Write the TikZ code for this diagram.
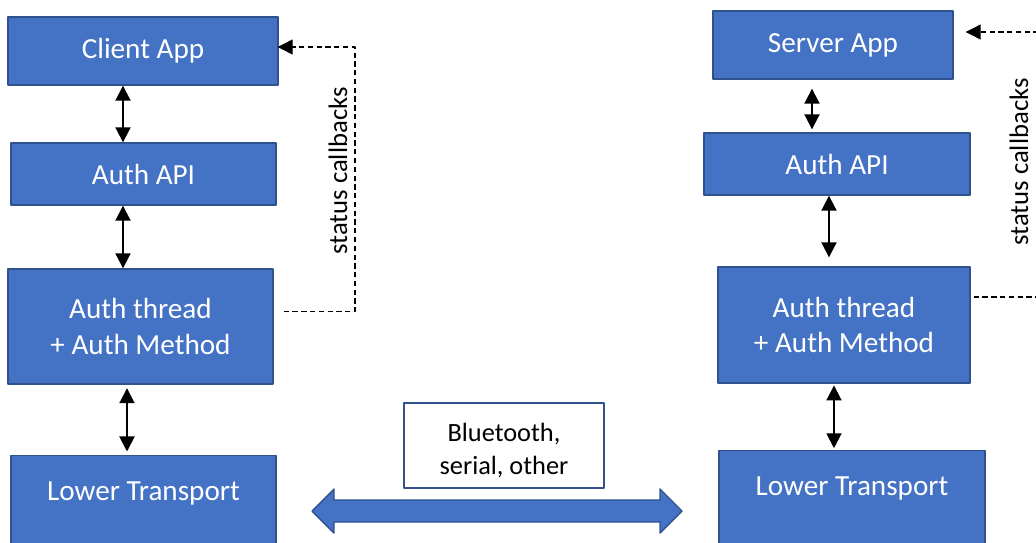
\documentclass[tikz,border=0pt]{standalone}
\usepackage{fontspec}
\setmainfont{Carlito}
\usetikzlibrary{arrows.meta}

\definecolor{boxblue}{HTML}{4472C4}
\definecolor{edgeblue}{HTML}{2F528F}

\begin{document}
\begin{tikzpicture}[x=0.02cm,y=-0.02cm,line cap=round,line join=round,
  layer/.style={draw=edgeblue,fill=boxblue,line width=0.8pt,text=white,
    font=\fontsize{16.6}{20.4}\selectfont,align=center,inner sep=0pt},
  linkbox/.style={draw=edgeblue,fill=white,line width=0.8pt,
    font=\fontsize{15}{18.6}\selectfont,align=center,inner sep=0pt},
  dbl/.style={line width=1.1pt,
    {Triangle[length=0.3cm,width=0.3cm]}-{Triangle[length=0.3cm,width=0.3cm]}},
  cb/.style={line cap=butt,dash pattern=on 3pt off 2pt,line width=0.6pt},
  cbtext/.style={rotate=90,font=\fontsize{15.2}{18}\selectfont}]
  \clip (0,0) rectangle (1036,542);

  % client side
  \node[layer,minimum width=5.4cm,minimum height=1.36cm] (appL) at (143,51) {Client App};
  \node[layer,minimum width=5.3cm,minimum height=1.24cm] (apiL) at (143.5,174) {Auth API};
  \node[layer,minimum width=5.3cm,minimum height=2.3cm] (thrL) at (140.5,326.5)
    {Auth thread\\+ Auth Method};
  \node[layer,minimum width=5.3cm,anchor=north,text height=0.9cm,text depth=1.4cm]
    (lowL) at (143.5,455) {Lower Transport};

  \draw[dbl] (123,0 |- appL.south) -- (123,0 |- apiL.north);
  \draw[dbl] (123,0 |- apiL.south) -- (123,0 |- thrL.north);
  \draw[dbl] ([yshift=-2pt]127,0 |- thrL.south) -- ([yshift=2pt]127,0 |- lowL.north);

  \draw[cb,-{Triangle[length=0.3cm,width=0.3cm]}]
    ([shift={(10,-15)}]thrL.east) -| (355,47) -- ([shift={(-1,-4)}]appL.east);
  \node[cbtext] (cbL) at (338,171) {status callbacks};

  % server side
  \node[layer,minimum width=4.8cm,minimum height=1.36cm] (appR) at (833,45) {Server App};
  \node[layer,minimum width=5.32cm,minimum height=1.24cm] (apiR) at (837,164) {Auth API};
  \node[layer,minimum width=5.04cm,minimum height=2.32cm] (thrR) at (844,325)
    {Auth thread\\+ Auth Method};
  \node[layer,minimum width=5.32cm,anchor=north,text height=0.9cm,text depth=1.4cm]
    (lowR) at (852,450) {Lower Transport};

  \draw[dbl,shorten <=0.18cm,shorten >=0.06cm] (812,0 |- appR.south) -- (812,0 |- apiR.north);
  \draw[dbl,shorten >=0.18cm] (829,0 |- apiR.south) -- (829,0 |- thrR.north);
  \draw[dbl] ([yshift=-1pt]834,0 |- thrR.south) -- ([yshift=1pt]834,0 |- lowR.north);

  \draw[cb,-{Triangle[length=0.3cm,width=0.3cm]}]
    ([shift={(3,-28)}]thrR.east) -| (1045,32) -- ([shift={(12,-13)}]appR.east);
  \node[cbtext] (cbR) at (1019,162) {status callbacks};

  % transport link
  \node[linkbox,minimum width=4cm,minimum height=1.7cm] (link) at (504,445.5)
    {\rule{0pt}{16pt}Bluetooth,\\serial, other};
  \draw[edgeblue,fill=boxblue,line width=0.8pt]
    (312,511) -- (334,489) -- (334,500) -- (660,500) -- (660,489) -- (682,511)
    -- (660,533) -- (660,522) -- (334,522) -- (334,533) -- cycle;
\end{tikzpicture}
\end{document}
